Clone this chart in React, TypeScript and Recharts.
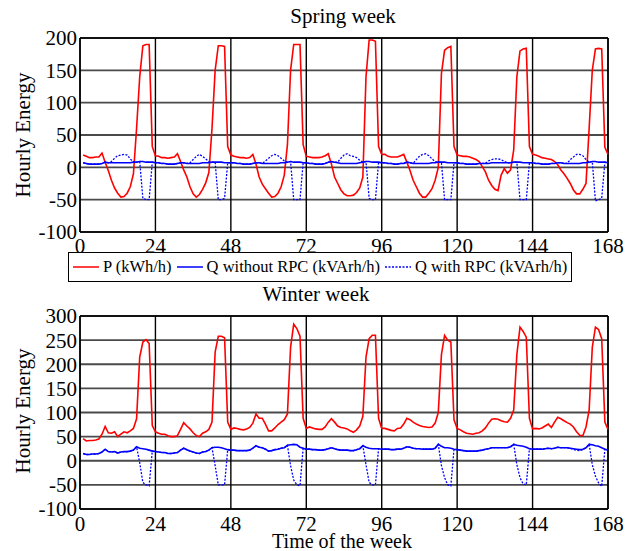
import { LineChart, Line, XAxis, YAxis, CartesianGrid, ReferenceLine, Legend } from "recharts"

const FONT = "'Liberation Serif', 'Times New Roman', serif"

// x axis: hour of the week (points sit at hours 1..168)
const hourTicks = [0, 24, 48, 72, 96, 120, 144, 168]
const springTicks = [-100, -50, 0, 50, 100, 150, 200]
const winterTicks = [-100, -50, 0, 50, 100, 150, 200, 250, 300]

// Spring week, one row per day (24 h)
const springP = [
  19, 17, 15, 15, 16, 16, 22, 8, -5, -20, -32, -40, -46, -45, -40, -30, -10, 60, 140, 188, 190, 190, 32, 18,
  17, 15, 15, 14, 15, 16, 21, 9, -4, -15, -30, -41, -46, -42, -34, -24, -8, 60, 150, 188, 188, 187, 32, 19,
  17, 16, 15, 15, 14, 15, 20, 5, -15, -26, -33, -40, -46, -45, -40, -30, -12, 35, 150, 190, 190, 190, 35, 17,
  16, 15, 15, 15, 16, 18, 21, 5, -15, -25, -35, -41, -44, -44, -43, -39, -32, -15, 140, 197, 197, 195, 32, 20,
  20, 17, 16, 16, 16, 18, 20, 8, -5, -20, -30, -40, -46, -46, -40, -33, -20, 0, 145, 181, 185, 187, 32, 19,
  18, 17, 17, 16, 14, 12, 9, 1, -7, -20, -28, -34, -36, -12, -2, -9, -4, 27, 140, 180, 183, 184, 32, 20,
  19, 17, 15, 14, 13, 12, 9, 4, -4, -10, -17, -25, -35, -41, -41, -34, -25, 60, 150, 183, 184, 183, 31, 20,
]

const springQ = [
  7, 6, 5, 5, 5, 5, 6, 8, 7, 7, 7, 7, 7, 7, 7, 7, 8, 8, 9, 9, 8, 8, 8, 7,
  7, 6, 6, 5, 5, 5, 6, 7, 7, 6, 6, 6, 6, 6, 7, 7, 7, 8, 8, 8, 8, 7, 7, 7,
  7, 6, 6, 5, 5, 5, 6, 7, 7, 6, 6, 6, 6, 6, 6, 7, 7, 8, 9, 8, 8, 8, 7, 7,
  6, 6, 5, 5, 5, 6, 8, 9, 8, 7, 6, 6, 6, 6, 6, 6, 7, 8, 9, 9, 8, 8, 8, 7,
  7, 6, 6, 5, 5, 6, 6, 8, 7, 6, 6, 6, 6, 6, 6, 7, 7, 8, 8, 8, 7, 7, 7, 7,
  6, 6, 5, 5, 5, 5, 6, 6, 6, 6, 7, 7, 7, 7, 7, 7, 7, 8, 8, 8, 7, 7, 7, 7,
  6, 6, 5, 5, 5, 6, 6, 7, 7, 6, 6, 6, 6, 6, 6, 7, 7, 8, 9, 9, 8, 8, 8, 7,
]

const springQRpc = [
  7, 6, 5, 5, 5, 5, 6, 8, 7, 9, 14, 18, 19, 20, 19, 13, 8, 8, 9, -48, -50, -50, 8, 7,
  7, 6, 6, 5, 5, 5, 6, 7, 7, 6, 7, 12, 17, 20, 17, 13, 9, 8, 8, -50, -50, -48, 7, 7,
  7, 6, 6, 5, 5, 5, 6, 7, 7, 6, 10, 14, 18, 20, 18, 14, 10, 8, 9, -50, -50, -50, 7, 7,
  6, 6, 5, 5, 5, 6, 8, 9, 8, 8, 14, 19, 21, 18, 17, 15, 11, 8, 9, -48, -50, -50, 8, 7,
  7, 6, 6, 5, 5, 6, 6, 8, 7, 6, 12, 17, 20, 21, 18, 13, 9, 8, 8, -50, -50, -50, 7, 7,
  6, 6, 5, 5, 5, 5, 6, 6, 6, 10, 12, 13, 13, 12, 9, 7, 7, 8, 8, -50, -50, -50, 7, 7,
  6, 6, 5, 5, 5, 6, 6, 7, 7, 6, 6, 12, 16, 20, 20, 18, 12, 8, 9, -52, -50, -48, 8, 7,
]

// Winter week
const winterP = [
  46, 41, 42, 42, 43, 45, 55, 71, 58, 57, 60, 50, 55, 60, 58, 62, 67, 87, 215, 246, 251, 243, 73, 60,
  57, 55, 55, 52, 50, 50, 52, 65, 79, 72, 66, 58, 52, 50, 57, 60, 65, 80, 225, 258, 258, 255, 80, 65,
  68, 67, 65, 64, 66, 69, 78, 97, 88, 88, 76, 62, 62, 68, 75, 80, 85, 97, 235, 283, 274, 258, 88, 67,
  70, 68, 66, 65, 65, 70, 80, 87, 80, 72, 69, 68, 66, 62, 59, 64, 72, 92, 215, 253, 260, 260, 88, 67,
  67, 65, 63, 62, 67, 68, 76, 88, 85, 80, 76, 73, 71, 70, 69, 70, 78, 100, 220, 260, 250, 246, 85, 67,
  64, 60, 57, 56, 55, 57, 58, 62, 68, 78, 86, 87, 86, 83, 81, 80, 88, 105, 220, 277, 268, 256, 88, 66,
  67, 66, 68, 72, 76, 69, 80, 90, 87, 83, 79, 76, 70, 60, 53, 52, 70, 105, 235, 277, 272, 253, 80, 65,
]

const winterQ = [
  15, 13, 13, 14, 14, 15, 18, 24, 19, 18, 19, 16, 18, 19, 19, 20, 22, 29, 26, 25, 24, 22, 20, 19,
  18, 17, 17, 15, 15, 16, 17, 22, 26, 23, 20, 18, 16, 15, 18, 19, 22, 27, 28, 28, 27, 25, 23, 22,
  22, 21, 21, 21, 21, 22, 26, 31, 28, 27, 24, 20, 21, 23, 24, 26, 27, 32, 33, 34, 33, 28, 26, 24,
  24, 23, 23, 22, 22, 23, 25, 27, 25, 23, 22, 22, 22, 21, 21, 23, 25, 31, 28, 26, 25, 25, 25, 24,
  24, 24, 23, 23, 24, 24, 26, 29, 28, 26, 25, 25, 24, 24, 24, 24, 26, 34, 30, 27, 27, 26, 24, 23,
  22, 21, 20, 20, 20, 20, 21, 22, 24, 25, 27, 27, 27, 27, 27, 27, 29, 34, 32, 31, 30, 28, 25, 24,
  24, 24, 24, 25, 26, 25, 26, 28, 27, 27, 27, 26, 25, 24, 23, 24, 27, 34, 33, 31, 30, 27, 24, 22,
]

const winterQRpc = [
  15, 13, 13, 14, 14, 15, 18, 24, 19, 18, 19, 16, 18, 19, 19, 20, 22, 29, -4, -45, -50, -52, 20, 19,
  18, 17, 17, 15, 15, 16, 17, 22, 26, 23, 20, 18, 16, 15, 18, 19, 22, 27, -10, -50, -50, -50, 23, 22,
  22, 21, 21, 21, 21, 22, 26, 31, 28, 27, 24, 20, 21, 23, 24, 26, 27, 32, -10, -40, -50, -52, 26, 24,
  24, 23, 23, 22, 22, 23, 25, 27, 25, 23, 22, 22, 22, 21, 21, 23, 25, 31, -8, -45, -50, -50, 25, 24,
  24, 24, 23, 23, 24, 24, 26, 29, 28, 26, 25, 25, 24, 24, 24, 24, 26, 34, -10, -35, -50, -52, 24, 23,
  22, 21, 20, 20, 20, 20, 21, 22, 24, 25, 27, 27, 27, 27, 27, 27, 29, 34, -8, -35, -48, -50, 25, 24,
  24, 24, 24, 25, 26, 25, 26, 28, 27, 27, 27, 26, 23, 22, 21, 23, 27, 34, -8, -32, -46, -53, 24, 22,
]

const toRows = (p: number[], q: number[], qr: number[]) =>
  p.map((v, i) => ({ hour: i + 1, p: v, q: q[i], qr: qr[i] }))

const springData = toRows(springP, springQ, springQRpc)
const winterData = toRows(winterP, winterQ, winterQRpc)

const RED = "#ff0000"
const BLUE = "#0000ff"
const DOTS = "2 1.5"

const legendItems = [
  { label: "P (kWh/h)", color: RED, dash: undefined },
  { label: "Q without RPC (kVArh/h)", color: BLUE, dash: undefined },
  { label: "Q with RPC (kVArh/h)", color: BLUE, dash: DOTS },
]

function LegendBox() {
  return (
    <div
      style={{
        width: 504,
        height: 30,
        boxSizing: "border-box",
        border: "1.5px solid #000",
        background: "#fff",
        display: "flex",
        alignItems: "center",
        paddingLeft: 4,
        fontFamily: FONT,
        fontSize: 16.5,
        color: "#000",
      }}
    >
      {legendItems.map((it) => (
        <span key={it.label} style={{ display: "flex", alignItems: "center", marginRight: 5 }}>
          <svg width={26} height={4}>
            <line x1={0} y1={2} x2={26} y2={2} stroke={it.color} strokeWidth={1.5} strokeDasharray={it.dash} />
          </svg>
          <span style={{ marginLeft: 4, whiteSpace: "nowrap" }}>{it.label}</span>
        </span>
      ))}
    </div>
  )
}

const tickStyle = { fill: "#000", fontSize: 21, fontFamily: FONT }

interface WeekChartProps {
  data: { hour: number; p: number; q: number; qr: number }[]
  yTicks: number[]
  height: number
  top: number
  tickGap: number
  legend?: boolean
}

function WeekChart({ data, yTicks, height, top, tickGap, legend }: WeekChartProps) {
  const yMax = yTicks[yTicks.length - 1]
  return (
    <LineChart width={637} height={height} data={data} margin={{ top, right: 29, bottom: 0, left: 0 }}>
      <CartesianGrid vertical={false} stroke="#4a4a4a" strokeWidth={1.8} />
      <CartesianGrid horizontal={false} stroke="#000" strokeWidth={1.4} />
      <XAxis
        type="number"
        dataKey="hour"
        domain={[0, 168]}
        ticks={hourTicks}
        interval={0}
        height={30}
        tickSize={0}
        tickMargin={tickGap}
        tickLine={false}
        axisLine={{ stroke: "#000", strokeWidth: 1.5 }}
        tick={tickStyle}
      />
      <YAxis
        type="number"
        domain={[yTicks[0], yMax]}
        ticks={yTicks}
        interval={0}
        width={80}
        tickSize={0}
        tickMargin={3}
        tickLine={false}
        axisLine={{ stroke: "#000", strokeWidth: 1.5 }}
        tick={tickStyle}
      />
      <ReferenceLine y={yMax} stroke="#000" strokeWidth={1.5} />
      <ReferenceLine x={168} stroke="#000" strokeWidth={1.5} />
      <Line type="linear" dataKey="p" stroke={RED} strokeWidth={1.6} dot={false} isAnimationActive={false} name="P (kWh/h)" />
      <Line type="linear" dataKey="q" stroke={BLUE} strokeWidth={1.6} dot={false} isAnimationActive={false} name="Q without RPC (kVArh/h)" />
      <Line
        type="linear"
        dataKey="qr"
        stroke={BLUE}
        strokeWidth={1.3}
        strokeDasharray={DOTS}
        dot={false}
        isAnimationActive={false}
        name="Q with RPC (kVArh/h)"
      />
      {legend && (
        <Legend
          layout="vertical"
          align="center"
          verticalAlign="middle"
          wrapperStyle={{ top: 252, left: 68, width: 504 }}
          content={() => <LegendBox />}
        />
      )}
    </LineChart>
  )
}

export default function App() {
  return (
    <div style={{ position: "absolute", left: 0, top: 0, width: 637, height: 551, background: "#fff" }}>
      <div style={{ position: "absolute", left: 0, top: 0 }}>
        <WeekChart data={springData} yTicks={springTicks} height={262} top={38} tickGap={6} legend />
      </div>
      <div style={{ position: "absolute", left: 0, top: 290 }}>
        <WeekChart data={winterData} yTicks={winterTicks} height={249} top={26} tickGap={7} />
      </div>
      <svg
        width={637}
        height={551}
        style={{ position: "absolute", left: 0, top: 0, pointerEvents: "none" }}
        fontFamily={FONT}
        fill="#000"
      >
        <text x={343} y={23} fontSize={21} textAnchor="middle">Spring week</text>
        <text x={316} y={301} fontSize={21} textAnchor="middle">Winter week</text>
        <text x={342} y={548} fontSize={20} textAnchor="middle">Time of the week</text>
        <text x={30} y={135} fontSize={21} textAnchor="middle" transform="rotate(-90 30 135)">Hourly Energy</text>
        <text x={30} y={411} fontSize={21} textAnchor="middle" transform="rotate(-90 30 411)">Hourly Energy</text>
      </svg>
    </div>
  )
}
